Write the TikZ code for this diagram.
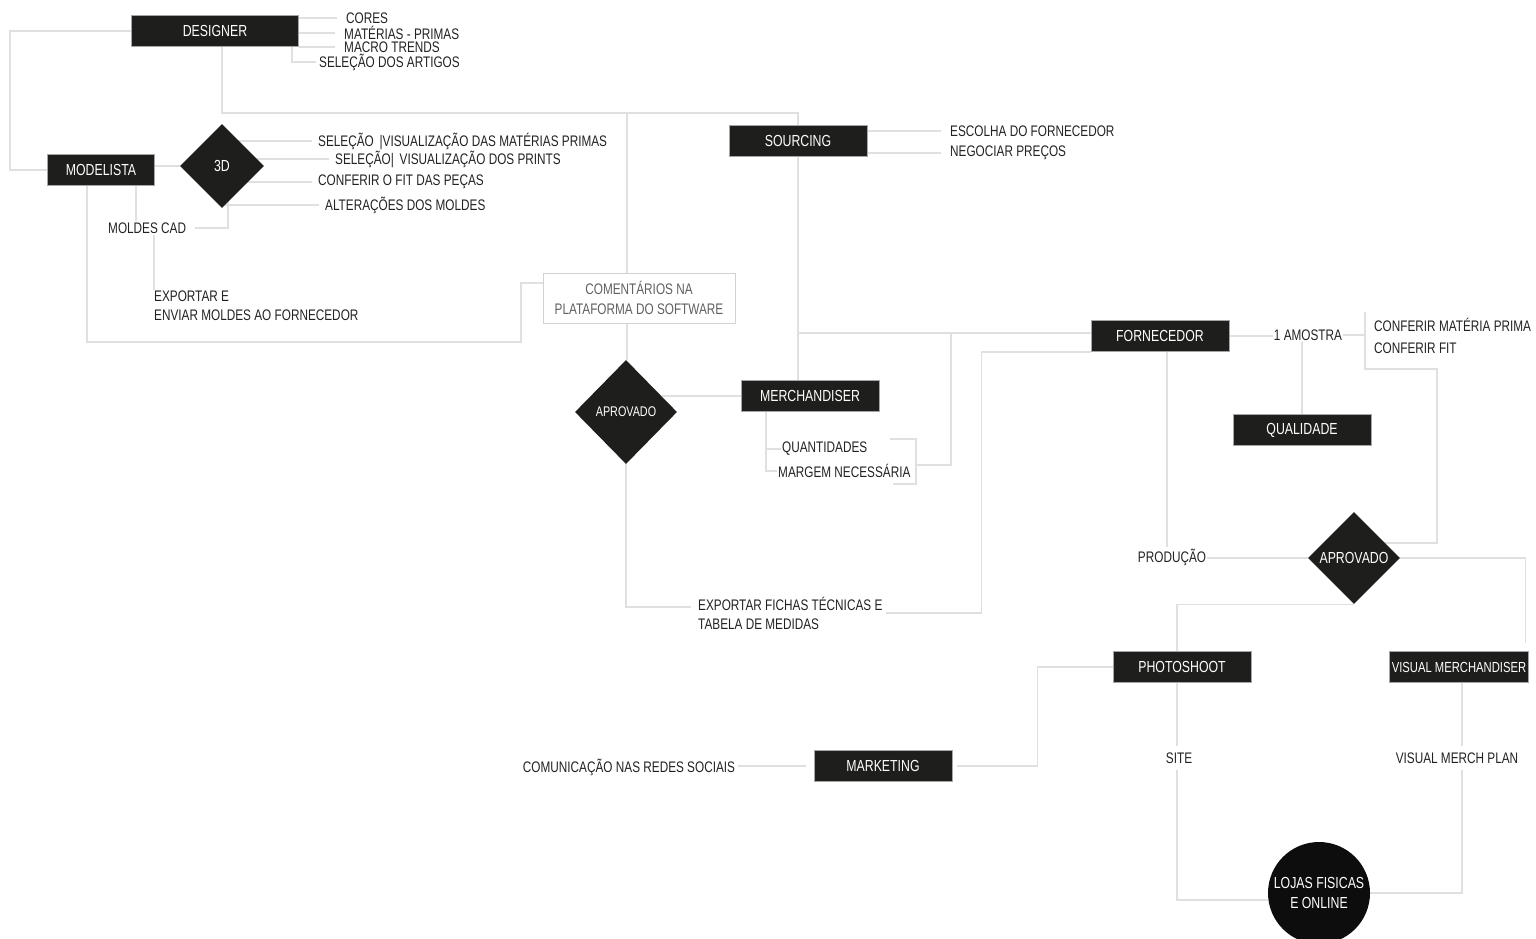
\documentclass[tikz,border=0pt]{standalone}
\usepackage{fontspec}
\setmainfont{Liberation Sans}[FakeStretch=0.77]
\usetikzlibrary{shapes.geometric,backgrounds}
\definecolor{boxfill}{HTML}{1E1E1C}
\definecolor{wiregray}{HTML}{E0E0E0}
\definecolor{inkgray}{HTML}{222222}

\tikzset{
  wire/.style={draw=wiregray, line width=1.3pt},
  blackbox/.style={rectangle, fill=boxfill, draw=gray!70, line width=0.8pt, text=white,
    minimum width=138pt, minimum height=31pt, inner sep=2pt, font=\fontsize{16}{18}\selectfont},
  decision/.style={diamond, fill=boxfill, text=white, inner sep=0pt, aspect=1,
    font=\fontsize{16}{18}\selectfont},
  note/.style={text=inkgray, inner sep=1pt, font=\fontsize{15.3}{19}\selectfont},
}

\begin{document}
\begin{tikzpicture}[x=1pt, y=-1pt]
                \useasboundingbox (0,0) rectangle (1536,939);

                % stages
                \draw(215,31) node[blackbox, minimum width=167pt] (designer) {DESIGNER};
                \draw(101,170) node[blackbox, minimum width=107pt] (modelista) {MODELISTA};
                \draw(222,166) node[decision, minimum width=84pt, minimum height=84pt] (d3) {3D};
                \draw(798,141) node[blackbox] (sourcing) {SOURCING};
                \draw(639,298) node[rectangle, draw=gray!35, line width=0.8pt, fill=white, text=gray!75!black,
                    minimum width=192pt, minimum height=50pt, align=center,
                    font=\fontsize{15.3}{20}\selectfont] (coment) {COMENTÁRIOS NA\\PLATAFORMA DO SOFTWARE};
                \draw(626,412) node[decision, minimum width=102pt, minimum height=104pt,
                    font=\fontsize{14}{16}\selectfont] (apr1) {APROVADO};
                \draw(810,396) node[blackbox] (merch) {MERCHANDISER};
                \draw(1160,336) node[blackbox] (forn) {FORNECEDOR};
                \draw(1302,430) node[blackbox] (qual) {QUALIDADE};
                \draw(1354,558) node[decision, minimum width=92pt, minimum height=92pt] (apr2) {APROVADO};
                \draw(1182,667) node[blackbox] (photo) {PHOTOSHOOT};
                \draw(1459,667) node[blackbox, font=\fontsize{14.6}{16}\selectfont] (vm) {VISUAL MERCHANDISER};
                \draw(883,766) node[blackbox] (mkt) {MARKETING};
                \draw(1319,893) node[circle, fill=black!95, text=white, minimum size=102pt, inner sep=0pt,
                    align=center, font=\fontsize{16}{20}\selectfont] (lojas) {LOJAS FISICAS\\E ONLINE};

                % notes
                \draw(345,18) node[note, anchor=west] (cores) {CORES};
                \draw(343,33) node[note, anchor=west] (materias) {MATÉRIAS - PRIMAS};
                \draw(343,47) node[note, anchor=west] (trends) {MACRO TRENDS};
                \draw(318,62) node[note, anchor=west] (artigos) {SELEÇÃO DOS ARTIGOS};
                \draw(317,141) node[note, anchor=west] (sel1) {SELEÇÃO \,|VISUALIZAÇÃO DAS MATÉRIAS PRIMAS};
                \draw(334,159) node[note, anchor=west] (sel2) {SELEÇÃO| \,VISUALIZAÇÃO DOS PRINTS};
                \draw(317,182) node[note, anchor=west] (fit) {CONFERIR O FIT DAS PEÇAS};
                \draw(324,205) node[note, anchor=west] (alter) {ALTERAÇÕES DOS MOLDES};
                \draw(107,228) node[note, anchor=west] (moldes) {MOLDES CAD};
                \draw(153,306) node[note, anchor=west, align=left] (exportar) {EXPORTAR E\\ENVIAR MOLDES AO FORNECEDOR};
                \draw(949,131) node[note, anchor=west] (escolha) {ESCOLHA DO FORNECEDOR};
                \draw(949,153) node[note, anchor=west] (negociar) {NEGOCIAR PREÇOS};
                \draw(781,449) node[note, anchor=west] (quant) {QUANTIDADES};
                \draw(777,471) node[note, anchor=west] (margem) {MARGEM NECESSÁRIA};
                \draw(697,613) node[note, anchor=west, align=left] (fichas) {EXPORTAR FICHAS TÉCNICAS E\\TABELA DE MEDIDAS};
                \draw(1308,335) node[note] (amostra) {1 AMOSTRA};
                \draw(1373,325) node[note, anchor=west] (confmat) {CONFERIR MATÉRIA PRIMA};
                \draw(1373,348) node[note, anchor=west] (conffit) {CONFERIR FIT};
                \draw(1172,557) node[note] (producao) {PRODUÇÃO};
                \draw(629,767) node[note] (comunic) {COMUNICAÇÃO NAS REDES SOCIAIS};
                \draw(1179,758) node[note, inner sep=6pt] (site) {SITE};
                \draw(1457,758) node[note, inner sep=6pt] (vmplan) {VISUAL MERCH PLAN};

                \coordinate (hub) at (627,113);
                \coordinate (qbr) at (916,465);
                \coordinate (sjoin) at (951,333);
                \coordinate (chk) at (1365,335);

                % links
                \begin{scope}[on background layer]
                \draw[wire] (designer.west) -- (10,31) |- (modelista.west);
                \foreach \t in {cores,materias,trends}
                    \draw[wire, shorten >=8pt] (designer.east |- \t.west) -- (\t.west);
                \draw[wire, shorten >=2pt] ([xshift=-7pt]designer.south east) |- (artigos.west);
                \draw[wire] ([xshift=7pt]designer.south) |- (hub) -| (sourcing.north);
                \draw[wire] (hub) -- (hub |- coment.north);
                \draw[wire, shorten >=8pt] (sourcing.east |- escolha.west) -- (escolha.west);
                \draw[wire, shorten >=8pt] (sourcing.east |- negociar.west) -- (negociar.west);

                \draw[wire] (modelista.east |- d3) -- (d3);
                \foreach \t in {sel1,sel2,fit,alter}
                    \draw[wire, shorten >=5pt] (d3.center |- \t.west) -- (\t.west);
                \draw[wire, shorten >=8pt] ([xshift=6pt]d3.center) |- (moldes.east);
                \draw[wire] ([xshift=35pt]modelista.south) -- ([xshift=35pt]modelista.south |- moldes.north);
                \draw[wire] ([xshift=1pt]exportar.north west |- moldes.south) -- ([xshift=1pt]exportar.north west);
                \draw[wire] ([xshift=-14pt]modelista.south) |- (521,342) |- ([yshift=15pt]coment.west);

                \draw[wire] (hub |- coment.south) -- (hub |- apr1.north);
                \draw[wire] (apr1.center |- merch.west) -- (merch.west);
                \draw[wire, shorten >=6pt] (apr1.center) |- ([yshift=6pt]fichas.west);
                \draw[wire, shorten <=2pt] (fichas.east) -| ([xshift=-109pt]forn.south west) -- (forn.south west);

                \draw[wire] (sourcing.south) -- (sourcing.south |- merch.north);
                \draw[wire] ([yshift=3pt]sourcing.south |- forn.west) -- ([yshift=3pt]forn.west);
                \draw[wire] ([xshift=-44pt]merch.south) |- (quant.west);
                \draw[wire] ([xshift=-44pt]merch.south) |- (margem.west);
                \draw[wire] (890,439) -| (916,484) -- (893,484);
                \draw[wire] (qbr) -| (sjoin);

                \draw[wire] (forn.east) -- (amostra.west |- forn.east);
                \draw[wire] (amostra.east) -- (chk);
                \draw[wire] (1365,312) |- (1437,369) |- ([yshift=15pt]apr2.center);
                \draw[wire] (qual.north |- amostra.south) -- (qual.north);
                \draw[wire] ([xshift=7pt]forn.south) -- ([xshift=7pt]forn.south |- producao.north);
                \draw[wire] (producao.east |- apr2) -- (apr2);
                \draw[wire] (apr2.center) -| ([xshift=-3pt, yshift=8pt]vm.north east);
                \draw[wire] (apr2.south) -| ([xshift=-5pt]photo.north);

                \draw[wire, shorten >=5pt] (photo.west) -| ([xshift=85pt]mkt.east) -- (mkt.east);
                \draw[wire, shorten <=2pt, shorten >=8pt] (comunic.east |- mkt) -- (mkt.west);
                \draw[wire] ([xshift=-5pt]photo.south) -- ([xshift=-5pt]photo.south |- site.north);
                \draw[wire] ([xshift=-5pt]photo.south |- site.south) |- ([yshift=-7pt]lojas.west);
                \draw[wire] ([xshift=3pt]vm.south) -- ([xshift=3pt]vm.south |- vmplan.north);
                \draw[wire] ([xshift=3pt]vm.south |- vmplan.south) |- (lojas.east);
                \end{scope}

            \end{tikzpicture}
\end{document}
